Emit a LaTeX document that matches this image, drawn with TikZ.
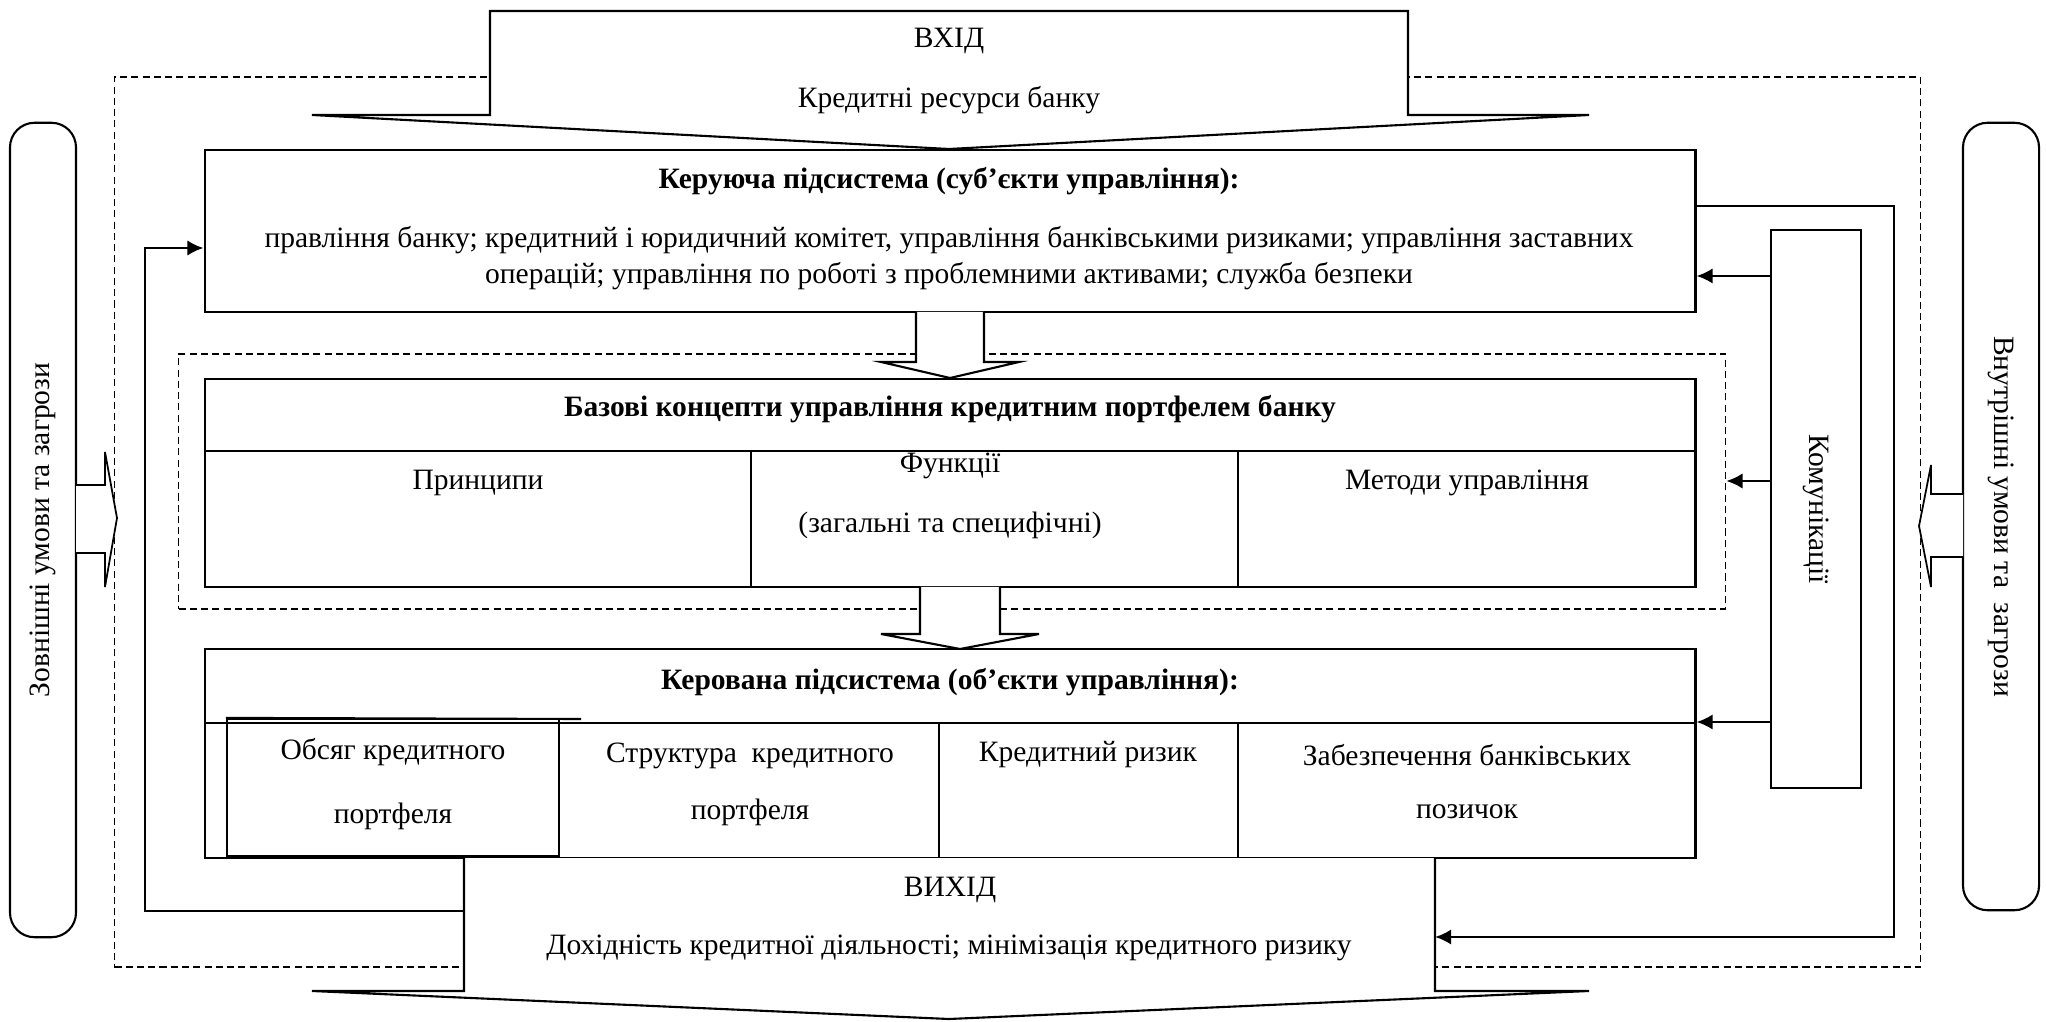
\documentclass[tikz,border=0pt]{standalone}
\usepackage{fontspec}
\setmainfont{Liberation Serif}
\usetikzlibrary{arrows.meta, calc, positioning}

\tikzset{
  box/.style={draw, line width=0.6pt, inner sep=0pt},
  sidebox/.style={draw, line width=0.6pt, inner sep=0pt, rounded corners=7pt},
  dashbox/.style={draw, line width=0.5pt, dash pattern=on 2pt off 1.2pt, inner sep=0pt},
  blockarrow/.style={draw, fill=white, line width=0.6pt, line join=miter},
  arr/.style={line width=0.7pt, -{Latex[length=4.6pt,width=4.4pt]}},
  txt/.style={inner sep=0pt, align=center, yshift=-0.03cm},
  title/.style={inner sep=0pt, yshift=-0.02cm, font=\fontsize{8.4}{10}\selectfont\bfseries}
}

\begin{document}
\begin{tikzpicture}[x=0.01cm, y=-0.01cm, font=\fontsize{8.4}{10}\selectfont]
\useasboundingbox (0,0) rectangle (2046,1022);

% Dashed contours
\node[dashbox, minimum width=18.05cm, minimum height=8.9cm] (outer) at (1017.5,522) {};
\node[dashbox, minimum width=15.46cm, minimum height=2.55cm] (inner) at (952,481.5) {};

% Input
\draw[blockarrow] (490,11) -- (1408,11) -- (1408,115) -- (1589,115) -- (949,149) -- (312,115) -- (490,115) -- cycle;
\node[txt] (inT) at (949,38) {ВХІД};
\node[txt] (inB) at (949,97) {Кредитні ресурси банку};

% Managing subsystem
\node[box, minimum width=14.9cm, minimum height=1.62cm] (mgr) at (950,231) {};
\node[title] (mgrT) at (949,179) {Керуюча підсистема (суб’єкти управління):};
\node[txt, font=\fontsize{8.4}{10.3}\selectfont] (mgrB) at (949,255.5) {правління банку; кредитний і юридичний комітет, управління банківськими ризиками; управління заставних\\операцій; управління по роботі з проблемними активами; служба безпеки};

% Base concepts
\node[box, minimum width=14.9cm, minimum height=2.08cm] (base) at (950,483) {};
\draw[line width=0.6pt] (base.west |- 0,451) -- (base.east |- 0,451);
\draw[line width=0.6pt] (751,451) -- (751,587);
\draw[line width=0.6pt] (1238,451) -- (1238,587);
\node[title] (baseT) at (950,407) {Базові концепти управління кредитним портфелем банку};
\node[txt] (prin) at (478,480) {Принципи};
\node[txt] (func) at (950,463) {Функції};
\node[txt] (funcB) at (950,522) {(загальні та специфічні)};
\node[txt] (meth) at (1467,480) {Методи управління};

% Managed subsystem
\node[box, minimum width=14.9cm, minimum height=2.09cm] (ctl) at (950,753.5) {};
\draw[line width=0.6pt] (ctl.west |- 0,723) -- (ctl.east |- 0,723);
\draw[line width=0.6pt] (559,723) -- (559,858);
\draw[line width=0.6pt] (939,723) -- (939,858);
\draw[line width=0.6pt] (1238,723) -- (1238,858);
\node[box, minimum width=3.32cm, minimum height=1.37cm] (vol) at (393,787.5) {};
\draw[line width=0.6pt] (vol.north west) -- (581,719);
\node[title] (ctlT) at (950,680) {Керована підсистема (об’єкти управління):};
\node[txt] (volA) at (393,749) {Обсяг кредитного};
\node[txt] (volB) at (393,813) {портфеля};
\node[txt] (strA) at (750,753) {Структура \ кредитного};
\node[txt] (strB) at (750,809) {портфеля};
\node[txt] (risk) at (1088,752) {Кредитний ризик};
\node[txt] (secA) at (1467,752) {Забезпечення банківських};
\node[txt] (secB) at (1467,809) {позичок};

% Hollow arrows between levels
\draw[blockarrow] (916,312) -- (916,362) -- (881,362) -- (950,378) -- (1019,362) -- (984,362) -- (984,312);
\draw[blockarrow] (920,587) -- (920,634) -- (881,634) -- (960,649) -- (1039,634) -- (1000,634) -- (1000,587);

% Output
\draw[blockarrow] (464,858) -- (464,991) -- (312,991) -- (949,1019) -- (1589,991) -- (1435,991) -- (1435,858);
\node[txt] (outT) at (950,887) {ВИХІД};
\node[txt] (outB) at (949,945) {Дохідність кредитної діяльності; мінімізація кредитного ризику};
\coordinate (outL) at (464,911);
\coordinate (outR) at (1435,937);

% Communications
\node[box, minimum width=0.9cm, minimum height=5.58cm] (comm) at (1816,509) {\rotatebox{-90}{Комунікації}};

% External and internal conditions
\node[sidebox, minimum width=0.66cm, minimum height=8.14cm] (ext) at (43,530) {\rotatebox{90}{Зовнішні умови та загрози}};
\node[sidebox, minimum width=0.76cm, minimum height=7.87cm] (int) at (2001,516.5) {\rotatebox{-90}{Внутрішні умови та \ загрози}};
\draw[blockarrow, line width=0.5pt] (76,485) -- (105,485) -- (105,452) -- (117,518) -- (105,587) -- (105,553) -- (76,553);
\draw[blockarrow, line width=0.5pt] (1963,494) -- (1931,494) -- (1931,465) -- (1919,526) -- (1931,587) -- (1931,557) -- (1963,557);

% Feedback and links
\draw[arr] (outL) -- (145,911) -- (145,248) -- (mgr.west |- 0,248);
\draw[arr] (mgr.east |- 0,206) -- (1894,206) -- (1894,937) -- (outR);
\draw[arr] (comm.west |- 0,276) -- (mgr.east |- 0,276);
\draw[arr] (comm.west |- 0,481) -- (inner.east |- 0,481);
\draw[arr] (comm.west |- 0,722) -- (ctl.east |- 0,722);

\end{tikzpicture}
\end{document}
